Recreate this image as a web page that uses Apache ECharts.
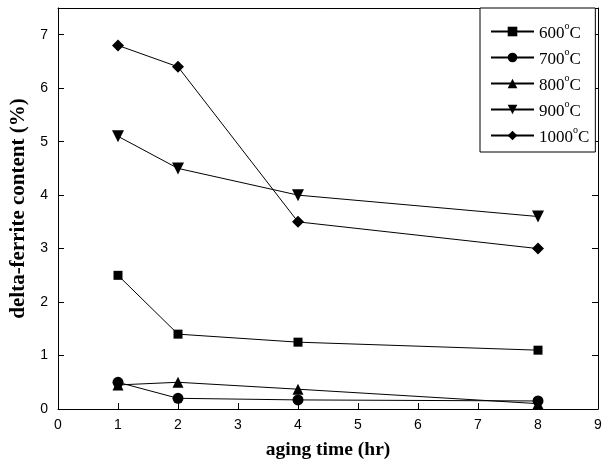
<!DOCTYPE html>
<html>
<head>
<meta charset="utf-8">
<script src="https://cdn.jsdelivr.net/npm/echarts@6/dist/echarts.min.js"></script>
<style>
  html, body { margin: 0; padding: 0; background: #fff; }
  #chart { width: 603px; height: 462px; }
</style>
</head>
<body>
<div id="chart"></div>
<script>
// aging time (hr)
var agingTime = [1, 2, 4, 8];
var temps = ['600', '700', '800', '900', '1000'];
var symbols = ['rect', 'circle', 'triangle', 'path://M0,0 L10,0 L5,9 Z', 'diamond'];
var symbolSizes = [9, 11, 11, 12, 12];

var v600 = [2.5, 1.4, 1.25, 1.1];
var v700 = [0.5, 0.2, 0.17, 0.15];
var v800 = [0.45, 0.5, 0.37, 0.1];
var v900 = [5.1, 4.5, 4.0, 3.6];
var v1000 = [6.8, 6.4, 3.5, 3.0];
var values = [v600, v700, v800, v900, v1000];

var serif = '"Liberation Serif", "Times New Roman", serif';
var sans = '"Liberation Sans", Arial, sans-serif';

var chart = echarts.init(document.getElementById('chart'));

var series = [];
for (var i = 0; i < temps.length; i++) {
    var pts = [];
    for (var j = 0; j < agingTime.length; j++) {
        pts.push([agingTime[j], values[i][j]]);
    }
    series.push({
        name: temps[i],
        type: 'line',
        data: pts,
        symbol: symbols[i],
        symbolSize: symbolSizes[i],
        showAllSymbol: true,
        animation: false,
        lineStyle: { color: '#000', width: 1 },
        itemStyle: { color: '#000' },
        z: 3
    });
}

var option = {
    backgroundColor: '#fff',
    animation: false,
    grid: { left: 58, right: 5, top: 8, bottom: 53, outerBoundsMode: 'none', containLabel: false },
    legend: {
        left: 480,
        top: 8,
        orient: 'vertical',
        padding: [13, 6, 6, 10],
        itemWidth: 43,
        itemHeight: 12,
        itemGap: 5,
        borderColor: '#000',
        borderWidth: 1,
        borderRadius: 0,
        backgroundColor: '#fff',
        data: temps,
        formatter: function (name) {
            return '{t|' + name + '}{s|o}{t|C}';
        },
        textStyle: {
            rich: {
                t: { fontFamily: serif, fontSize: 17, color: '#000', padding: [4, 0, 0, 0] },
                s: { fontFamily: serif, fontSize: 10, color: '#000', verticalAlign: 'top', padding: [0, 0, 6, 0] }
            }
        }
    },
    xAxis: [{
        type: 'value',
        min: 0,
        max: 9,
        interval: 1,
        name: 'aging time (hr)',
        nameLocation: 'middle',
        nameGap: 31,
        nameTextStyle: { fontFamily: serif, fontSize: 19.5, fontWeight: 'bold', color: '#000' },
        axisLine: { onZero: false, lineStyle: { color: '#000', width: 1 } },
        axisTick: { inside: true, length: 6, lineStyle: { color: '#000' } },
        axisLabel: { fontFamily: sans, fontSize: 14, color: '#000', margin: 9 },
        splitLine: { show: false }
    }, {
        type: 'value',
        position: 'top',
        min: 0,
        max: 9,
        interval: 1,
        axisLine: { show: true, onZero: false, lineStyle: { color: '#000', width: 1 } },
        axisTick: { show: false },
        axisLabel: { show: false },
        splitLine: { show: false }
    }],
    yAxis: [{
        type: 'value',
        min: 0,
        max: 7.5,
        interval: 1,
        name: 'delta-ferrite content (%)',
        nameLocation: 'middle',
        nameGap: 27,
        nameTextStyle: { fontFamily: serif, fontSize: 21, fontWeight: 'bold', color: '#000' },
        axisLine: { show: true, onZero: false, lineStyle: { color: '#000', width: 1 } },
        axisTick: { inside: true, length: 6, lineStyle: { color: '#000' } },
        axisLabel: {
            fontFamily: sans, fontSize: 14, color: '#000', margin: 10,
            formatter: function (v) { return Number.isInteger(v) ? String(v) : ''; }
        },
        splitLine: { show: false }
    }, {
        type: 'value',
        position: 'right',
        min: 0,
        max: 7.5,
        interval: 1,
        axisLine: { show: true, onZero: false, lineStyle: { color: '#000', width: 1 } },
        axisTick: { inside: true, length: 6, lineStyle: { color: '#000' } },
        axisLabel: { show: false },
        splitLine: { show: false }
    }],
    series: series
};

chart.setOption(option);
</script>
</body>
</html>
